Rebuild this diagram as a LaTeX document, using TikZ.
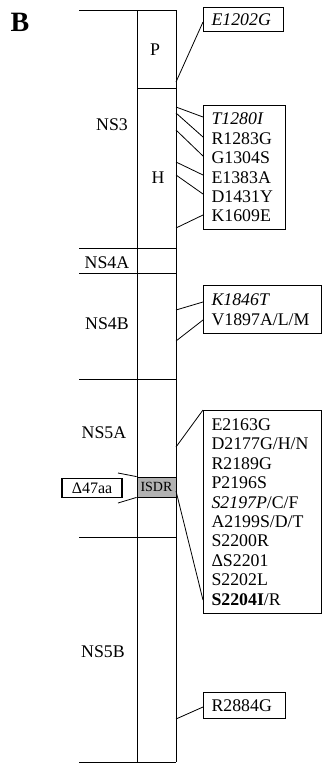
\documentclass[tikz,border=0pt]{standalone}
\usepackage{fontspec}
\setmainfont{Liberation Serif}
\usetikzlibrary{positioning, calc}
\newcommand{\mutfont}{\fontsize{17.8}{19.4}\selectfont}

\begin{document}
\begin{tikzpicture}[x=1pt, y=-1pt, line width=0.8pt, font=\mutfont,
  mutbox/.style={draw, line width=1.1pt, anchor=north west, align=left,
    inner xsep=8pt, inner ysep=0pt},
  region/.style={inner sep=0pt}]
  \useasboundingbox (0,0) rectangle (322,763);

  % Panel letter
  \node (panel) at (20,22) {\fontsize{28}{30}\selectfont\bfseries B};

  % Protein column and domain borders
  \draw (137,10) -- (137,762);
  \draw (176,10) -- (176,762);
  \foreach \y in {10,248,273,379,537,762}
    \draw (79,\y) -- (176,\y);
  \draw (137,88) -- (176,88);

  % Domain labels
  \node (P)    [region] at (155,50)  {P};
  \node (NS3)  [region] at (112,125) {NS3};
  \node (H)    [region] at (158,178) {H};
  \node (NS4A) [region] at (107,263) {NS4A};
  \node (NS4B) [region] at (107,324) {NS4B};
  \node (NS5A) [region] at (104,433) {NS5A};
  \node (NS5B) [region] at (103,652) {NS5B};

  % ISDR and deletion
  \node (isdr) [draw, fill=gray!60, minimum width=39pt, minimum height=20pt,
    inner sep=0pt, font=\fontsize{14}{14}\selectfont] at (156.5,487) {ISDR};
  \node (del) [draw, line width=1.4pt, minimum width=60pt, minimum height=19pt,
    inner sep=0pt, font=\fontsize{16}{16}\selectfont] at (92,488) {Δ47aa};
  \coordinate (delU) at (118,473);
  \coordinate (delL) at (118,503);
  \draw (delU) -- (isdr.north west);
  \draw (delL) -- (isdr.south west);

  % Mutation boxes
  \node (bP) [mutbox, text width=64pt, minimum height=24pt] at (203,7)
    {\textit{E1202G}};
  \node (bH) [mutbox, text width=66pt, minimum height=124pt] at (203,105)
    {\textit{T1280I}\\R1283G\\G1304S\\E1383A\\D1431Y\\K1609E};
  \node (b4B) [mutbox, text width=102pt, minimum height=48pt] at (203,285)
    {\textit{K1846T}\\V1897A/L/M};
  \node (b5A) [mutbox, text width=102pt, minimum height=203pt] at (203,410)
    {E2163G\\D2177G/H/N\\R2189G\\P2196S\\\textit{S2197P}/C/F\\A2199S/D/T\\S2200R\\ΔS2201\\S2202L\\\textbf{S2204I}/R};
  \node (b5B) [mutbox, text width=66pt, minimum height=26pt] at (203,692)
    {R2884G};

  % Connectors from the column
  \coordinate (p1) at (176,82);
  \draw (p1) -- (bP.west |- 0,22);

  \foreach \a/\b [count=\i] in {107/117, 113/137, 130/156, 162/175, 175/194, 228/215} {
    \coordinate (h\i) at (176,\a);
    \draw (h\i) -- (bH.west |- 0,\b);
  }

  \coordinate (k1) at (176,310);
  \coordinate (k2) at (176,341);
  \draw (k1) -- (b4B.west |- 0,302);
  \draw (k2) -- (b4B.west |- 0,320);

  \coordinate (s1) at (176,447);
  \coordinate (s2) at (176,491);
  \draw (s1) -- (b5A.north west);
  \draw (s2) -- (b5A.west |- 0,600);

  \coordinate (r1) at (176,719);
  \draw (r1) -- (b5B.west |- 0,707);
\end{tikzpicture}
\end{document}
